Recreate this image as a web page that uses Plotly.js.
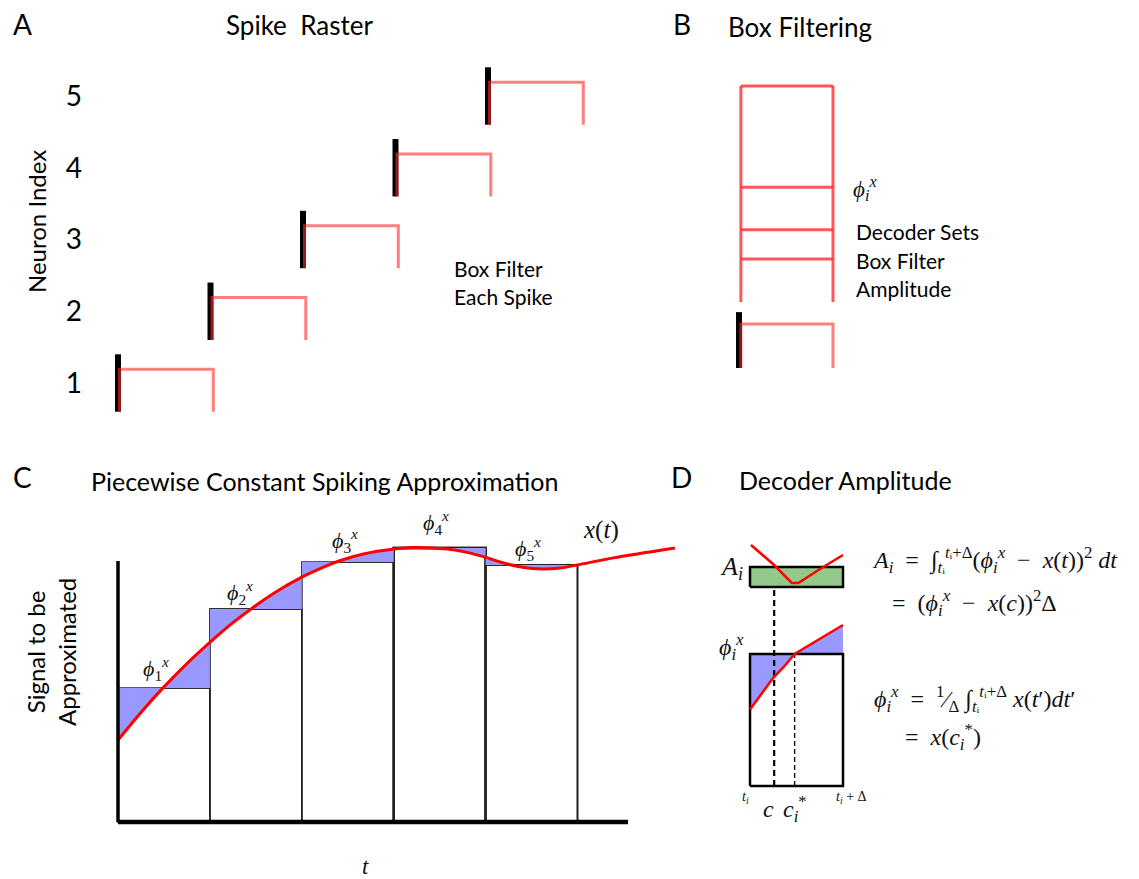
<!DOCTYPE html>
<html><head><meta charset="utf-8">
<script src="https://cdn.plot.ly/plotly-3.0.1.min.js"></script>
<style>html,body{margin:0;padding:0;background:#fff}#chart{width:1139px;height:879px}</style>
</head><body><div id="chart"></div>
<script>
// ================= DATA =================
// Panel A: spike raster (one spike per neuron)
const spikeTimes = [1, 2, 3, 4, 5];
const neuronIdx = [1, 2, 3, 4, 5];
const neuronLabels = ['1', '2', '3', '4', '5'];
const spikeHalfHeight = 0.4;
const boxTopOffset = 0.19;
const boxWidth = 1.03;

// Panel B: box filtering
const bSpikeHeight = 1.27;
const bBoxHeight = 1;
const bBoxWidth = 1;
const stackBase = 1.5;
const stackLevels = [2.48, 3.14, 4.11, 6.41];

// Panel C: piecewise constant approximation
const binStarts = [0, 1, 2, 3, 4];
const binWidth = 1;
const phiValues = [5.13, 8.16, 9.96, 10.50, 9.85];
const phiNames = ['1', '2', '3', '4', '5'];
const sigT = [0, 0.24, 0.49, 0.75, 1.0, 1.22, 1.47, 1.73, 2.0, 2.23, 2.42, 2.67, 3.0, 3.21, 3.58, 3.80, 4.0, 4.16, 4.34, 4.56, 4.81, 5.0, 5.39, 6.06];
const sigX = [3.14, 4.16, 5.14, 6.07, 6.88, 7.55, 8.22, 8.84, 9.38, 9.76, 10.02, 10.27, 10.46, 10.52, 10.46, 10.33, 10.14, 9.96, 9.80, 9.70, 9.73, 9.85, 10.12, 10.50];
const cAxisTop = 10;
const cAxisEnd = 5.55;

// Panel D: decoder amplitude
const dPhi = 1.0;
const dT = [0, 0.25, 0.36, 0.48, 1.0];
const dX = [0.58, 0.82, 0.90, 1.0, 1.22];
const errT = [0.01, 0.26, 0.45, 0.52, 0.77, 1.0];
const errV = [2.1, 1.1, 0.2, 0.2, 0.95, 1.6];
const ampBand = [0, 1];
const cPoint = 0.26;
const cStar = 0.48;

// ================= LAYOUT HELPERS =================
const W = 1139, H = 879;
function lin(v1, q1, v2, q2) { const b = (q2 - q1) / (v2 - v1); return { a: q1 - b * v1, b: b }; }
function xAx(p0, p1, v1, q1, v2, q2, extra) {
  const m = lin(v1, q1, v2, q2);
  return Object.assign({ domain: [p0 / W, p1 / W], range: [(p0 - m.a) / m.b, (p1 - m.a) / m.b],
    visible: false, showgrid: false, zeroline: false, fixedrange: true }, extra || {});
}
function yAx(p0, p1, v1, q1, v2, q2, extra) {
  const m = lin(v1, q1, v2, q2);
  return Object.assign({ domain: [1 - p1 / H, 1 - p0 / H], range: [(p1 - m.a) / m.b, (p0 - m.a) / m.b],
    visible: false, showgrid: false, zeroline: false, fixedrange: true }, extra || {});
}
function P(x, y) { return { x: x / W, y: 1 - y / H, xref: 'paper', yref: 'paper' }; }

const SANS = 'Lato, "Open Sans", sans-serif';
const SERIF = '"Liberation Serif", "DejaVu Serif", serif';
const RED_A = 'rgba(255,40,40,0.6)';
const RED_B = 'rgba(255,40,40,0.78)';

const traces = [];

// ---- Panel A ----
{
  const bx = [], by = [], rx = [], ry = [];
  const off = 0.016;
  spikeTimes.forEach((t, i) => {
    const n = neuronIdx[i];
    bx.push(t, t, null); by.push(n - spikeHalfHeight, n + spikeHalfHeight, null);
    rx.push(t + off, t + off, t + boxWidth, t + boxWidth, null);
    ry.push(n - spikeHalfHeight, n + boxTopOffset, n + boxTopOffset, n - spikeHalfHeight, null);
  });
  traces.push({ type: 'scatter', mode: 'lines', x: bx, y: by, xaxis: 'x', yaxis: 'y',
    line: { color: '#000', width: 6 }, hoverinfo: 'skip' });
  traces.push({ type: 'scatter', mode: 'lines', x: rx, y: ry, xaxis: 'x', yaxis: 'y',
    line: { color: RED_A, width: 3 }, hoverinfo: 'skip' });
}

// ---- Panel B ----
{
  const off = 0.02;
  traces.push({ type: 'scatter', mode: 'lines', x: [0, 0], y: [0, bSpikeHeight], xaxis: 'x2', yaxis: 'y2',
    line: { color: '#000', width: 6 }, hoverinfo: 'skip' });
  traces.push({ type: 'scatter', mode: 'lines', x: [off, off, bBoxWidth, bBoxWidth], y: [0, bBoxHeight, bBoxHeight, 0],
    xaxis: 'x2', yaxis: 'y2', line: { color: RED_A, width: 3 }, hoverinfo: 'skip' });
  const top = Math.max(...stackLevels);
  const sx = [off, off, null, bBoxWidth, bBoxWidth, null], sy = [stackBase, top, null, stackBase, top, null];
  stackLevels.forEach(l => { sx.push(off, bBoxWidth, null); sy.push(l, l, null); });
  traces.push({ type: 'scatter', mode: 'lines', x: sx, y: sy, xaxis: 'x2', yaxis: 'y2',
    line: { color: RED_B, width: 3 }, hoverinfo: 'skip' });
}

// fill polygon between constant level and curve on [s, e]
function fillPoly(s, e, level, T, X) {
  const xs = [s, e], ys = [level, level];
  for (let k = T.length - 1; k >= 0; k--) {
    if (T[k] >= s - 1e-9 && T[k] <= e + 1e-9) { xs.push(T[k]); ys.push(X[k]); }
  }
  return { xs, ys };
}

// ---- Panel C ----
{
  const centers = binStarts.map(s => s + binWidth / 2);
  const lw = [1.3, 1.3, 1.3, 2.4, 1.6];
  traces.push({ type: 'bar', x: centers, y: phiValues, width: binWidth, base: 0, xaxis: 'x3', yaxis: 'y3',
    marker: { color: '#fff', line: { color: '#222', width: lw } }, hoverinfo: 'skip' });
  binStarts.forEach((s, i) => {
    const p = fillPoly(s, s + binWidth, phiValues[i], sigT, sigX);
    traces.push({ type: 'scatter', mode: 'lines', x: p.xs, y: p.ys, fill: 'toself', fillcolor: 'rgb(153,153,255)',
      line: { width: 0, color: 'rgba(0,0,0,0)' }, xaxis: 'x3', yaxis: 'y3', hoverinfo: 'skip' });
  });
  traces.push({ type: 'bar', x: centers, y: phiValues, width: binWidth, base: 0, xaxis: 'x3', yaxis: 'y3',
    marker: { color: 'rgba(0,0,0,0)', line: { color: '#222', width: lw } }, hoverinfo: 'skip' });
  traces.push({ type: 'scatter', mode: 'lines', x: sigT, y: sigX, xaxis: 'x3', yaxis: 'y3',
    line: { color: 'rgb(255,0,0)', width: 3, shape: 'spline', smoothing: 0.8 }, hoverinfo: 'skip' });
}

// ---- Panel D (top: amplitude band, bottom: phi box) ----
{
  traces.push({ type: 'scatter', mode: 'lines', x: [0, 1, 1, 0, 0], y: [ampBand[0], ampBand[0], ampBand[1], ampBand[1], ampBand[0]],
    fill: 'toself', fillcolor: '#93C98B', line: { color: '#000', width: 2.5 }, xaxis: 'x4', yaxis: 'y4', hoverinfo: 'skip' });
  traces.push({ type: 'scatter', mode: 'lines', x: errT, y: errV, xaxis: 'x4', yaxis: 'y4',
    line: { color: 'rgb(255,0,0)', width: 2.5 }, hoverinfo: 'skip' });

  const p = fillPoly(0, 1, dPhi, dT, dX);
  traces.push({ type: 'scatter', mode: 'lines', x: p.xs, y: p.ys, fill: 'toself', fillcolor: 'rgb(153,153,255)',
    line: { width: 0, color: 'rgba(0,0,0,0)' }, xaxis: 'x5', yaxis: 'y5', hoverinfo: 'skip' });
  traces.push({ type: 'scatter', mode: 'lines', x: [0, 1, 1, 0, 0], y: [0, 0, dPhi, dPhi, 0], xaxis: 'x5', yaxis: 'y5',
    line: { color: '#000', width: 2.5 }, hoverinfo: 'skip' });
}

// ================= AXES =================
const layout = {
  width: W, height: H, margin: { l: 0, r: 0, t: 0, b: 0 }, autosize: false,
  paper_bgcolor: '#fff', plot_bgcolor: 'rgba(0,0,0,0)', showlegend: false, barmode: 'overlay',
  font: { family: SANS, color: '#000' },
  xaxis: xAx(83, 610, 1, 118, 5, 488, { anchor: 'y' }),
  yaxis: yAx(40, 430, 1, 383, 5, 96, { anchor: 'x', visible: true, showline: false, ticks: '',
    tickvals: neuronIdx, ticktext: neuronLabels, tickfont: { family: SANS, size: 28, color: '#000' } }),
  xaxis2: xAx(700, 900, 0, 739, 1, 833, { anchor: 'y2' }),
  yaxis2: yAx(60, 390, 0, 368, 1, 324, { anchor: 'x2' }),
  xaxis3: xAx(110, 690, 0, 118, 5, 577.5, { anchor: 'y3' }),
  yaxis3: yAx(530, 832, 0, 822, 10, 561, { anchor: 'x3' }),
  xaxis4: xAx(740, 860, 0, 750, 1, 843, { anchor: 'y4' }),
  yaxis4: yAx(530, 600, 0, 587, 1, 567, { anchor: 'x4' }),
  xaxis5: xAx(740, 860, 0, 750, 1, 843, { anchor: 'y5' }),
  yaxis5: yAx(587, 800, 0, 786, 1, 654, { anchor: 'x5' }),
};

// dashed guide lines in panel D
const dTop = layout.yaxis5.range[1];
traces.push({ type: 'scatter', mode: 'lines', x: [cPoint, cPoint], y: [0, dTop], xaxis: 'x5', yaxis: 'y5',
  line: { color: '#000', width: 2.2, dash: '6px,4px' }, hoverinfo: 'skip' });
traces.push({ type: 'scatter', mode: 'lines', x: [cStar, cStar], y: [0, dPhi], xaxis: 'x5', yaxis: 'y5',
  line: { color: '#000', width: 1.3, dash: '5px,3px' }, hoverinfo: 'skip' });
traces.push({ type: 'scatter', mode: 'lines', x: dT, y: dX, xaxis: 'x5', yaxis: 'y5',
  line: { color: 'rgb(255,0,0)', width: 2.5 }, hoverinfo: 'skip' });

// axis lines of panel C
layout.shapes = [
  { type: 'line', xref: 'x3', yref: 'y3', x0: 0, x1: 0, y0: 0, y1: cAxisTop, line: { color: '#000', width: 3.5 } },
  { type: 'line', xref: 'x3', yref: 'y3', x0: 0, x1: cAxisEnd, y0: 0, y1: 0, line: { color: '#000', width: 4.5 } },
];

// ================= TEXT =================
function txt(x, y, text, size, opts) {
  return Object.assign(P(x, y), { text: text, showarrow: false, xanchor: 'center', yanchor: 'middle',
    font: { family: SANS, size: size, color: '#000' } }, opts || {});
}
const phiTxt = s => '<i>ϕ</i><sub>' + s + '</sub><sup><i>x</i></sup>';
const mathFont = s => ({ family: SERIF, size: s, color: '#111' });
const sp = '\u2002';
const ann = [
  txt(22, 24, 'A', 28),
  txt(299, 25, 'Spike\u00a0 Raster', 26),
  txt(682, 24, 'B', 28),
  txt(726, 27, 'Box Filtering', 26, { xanchor: 'left' }),
  txt(37, 222, 'Neuron Index', 24, { textangle: -90 }),
  txt(452, 268, 'Box Filter', 21, { xanchor: 'left' }),
  txt(452, 297, 'Each Spike', 21, { xanchor: 'left' }),
  txt(851, 188, phiTxt('<i>i</i>'), 23, { xanchor: 'left', font: mathFont(23) }),
  txt(854, 231, 'Decoder Sets', 21, { xanchor: 'left' }),
  txt(854, 260, 'Box Filter', 21, { xanchor: 'left' }),
  txt(854, 289, 'Amplitude', 21, { xanchor: 'left' }),
  txt(22, 477, 'C', 28),
  txt(324, 481, 'Piecewise Constant Spiking Approximation', 25),
  txt(681, 477, 'D', 28),
  txt(737, 480, 'Decoder Amplitude', 25, { xanchor: 'left' }),
  txt(51, 652, 'Signal to be<br>Approximated', 24, { textangle: -90 }),
  txt(365, 866, '<i>t</i>', 23, { font: mathFont(23) }),
  txt(601, 530, '<i>x</i>(<i>t</i>)', 25, { font: mathFont(25) }),
  txt(731, 568, '<i>A</i><sub><i>i</i></sub>', 26, { font: mathFont(26) }),
  txt(731, 647, phiTxt('<i>i</i>'), 24, { font: mathFont(24) }),
  txt(745, 797, '<i>t</i><sub><i>i</i></sub>', 14, { font: mathFont(14) }),
  txt(768, 809, '<i>c</i>', 24, { font: mathFont(24) }),
  txt(795, 809, '<i>c</i><sub><i>i</i></sub><sup>*</sup>', 24, { font: mathFont(24) }),
  txt(851, 797, '<i>t</i><sub><i>i</i></sub> + Δ', 14, { font: mathFont(14) }),
  txt(870, 560, '<i>A</i><sub><i>i</i></sub>' + sp + '=' + sp + '∫<sub><i>t</i>ᵢ</sub><sup><i>t</i>ᵢ+Δ</sup>(' + phiTxt('<i>i</i>') + sp + '−' + sp + '<i>x</i>(<i>t</i>))<sup>2</sup> <i>dt</i>', 24, { xanchor: 'left', font: mathFont(24) }),
  txt(890, 603, '=' + sp + '(' + phiTxt('<i>i</i>') + sp + '−' + sp + '<i>x</i>(<i>c</i>))<sup>2</sup>Δ', 24, { xanchor: 'left', font: mathFont(24) }),
  txt(872, 699, phiTxt('<i>i</i>') + sp + '=' + sp + '<sup>1</sup>⁄<sub>Δ</sub> ∫<sub><i>t</i>ᵢ</sub><sup><i>t</i>ᵢ+Δ</sup> <i>x</i>(<i>t</i>′)<i>dt</i>′', 24, { xanchor: 'left', font: mathFont(24) }),
  txt(903, 737, '=' + sp + '<i>x</i>(<i>c</i><sub><i>i</i></sub><sup>*</sup>)', 24, { xanchor: 'left', font: mathFont(24) }),
];
// phi labels over the bars in panel C
const phiLabelPx = [[156, 668], [240, 592], [345, 540], [436, 522], [528, 548]];
phiNames.forEach((nm, i) => ann.push(txt(phiLabelPx[i][0], phiLabelPx[i][1], phiTxt(nm), 22, { font: mathFont(22) })));
layout.annotations = ann;

Plotly.newPlot('chart', traces, layout, { displayModeBar: false, staticPlot: true });
</script>
</body></html>
